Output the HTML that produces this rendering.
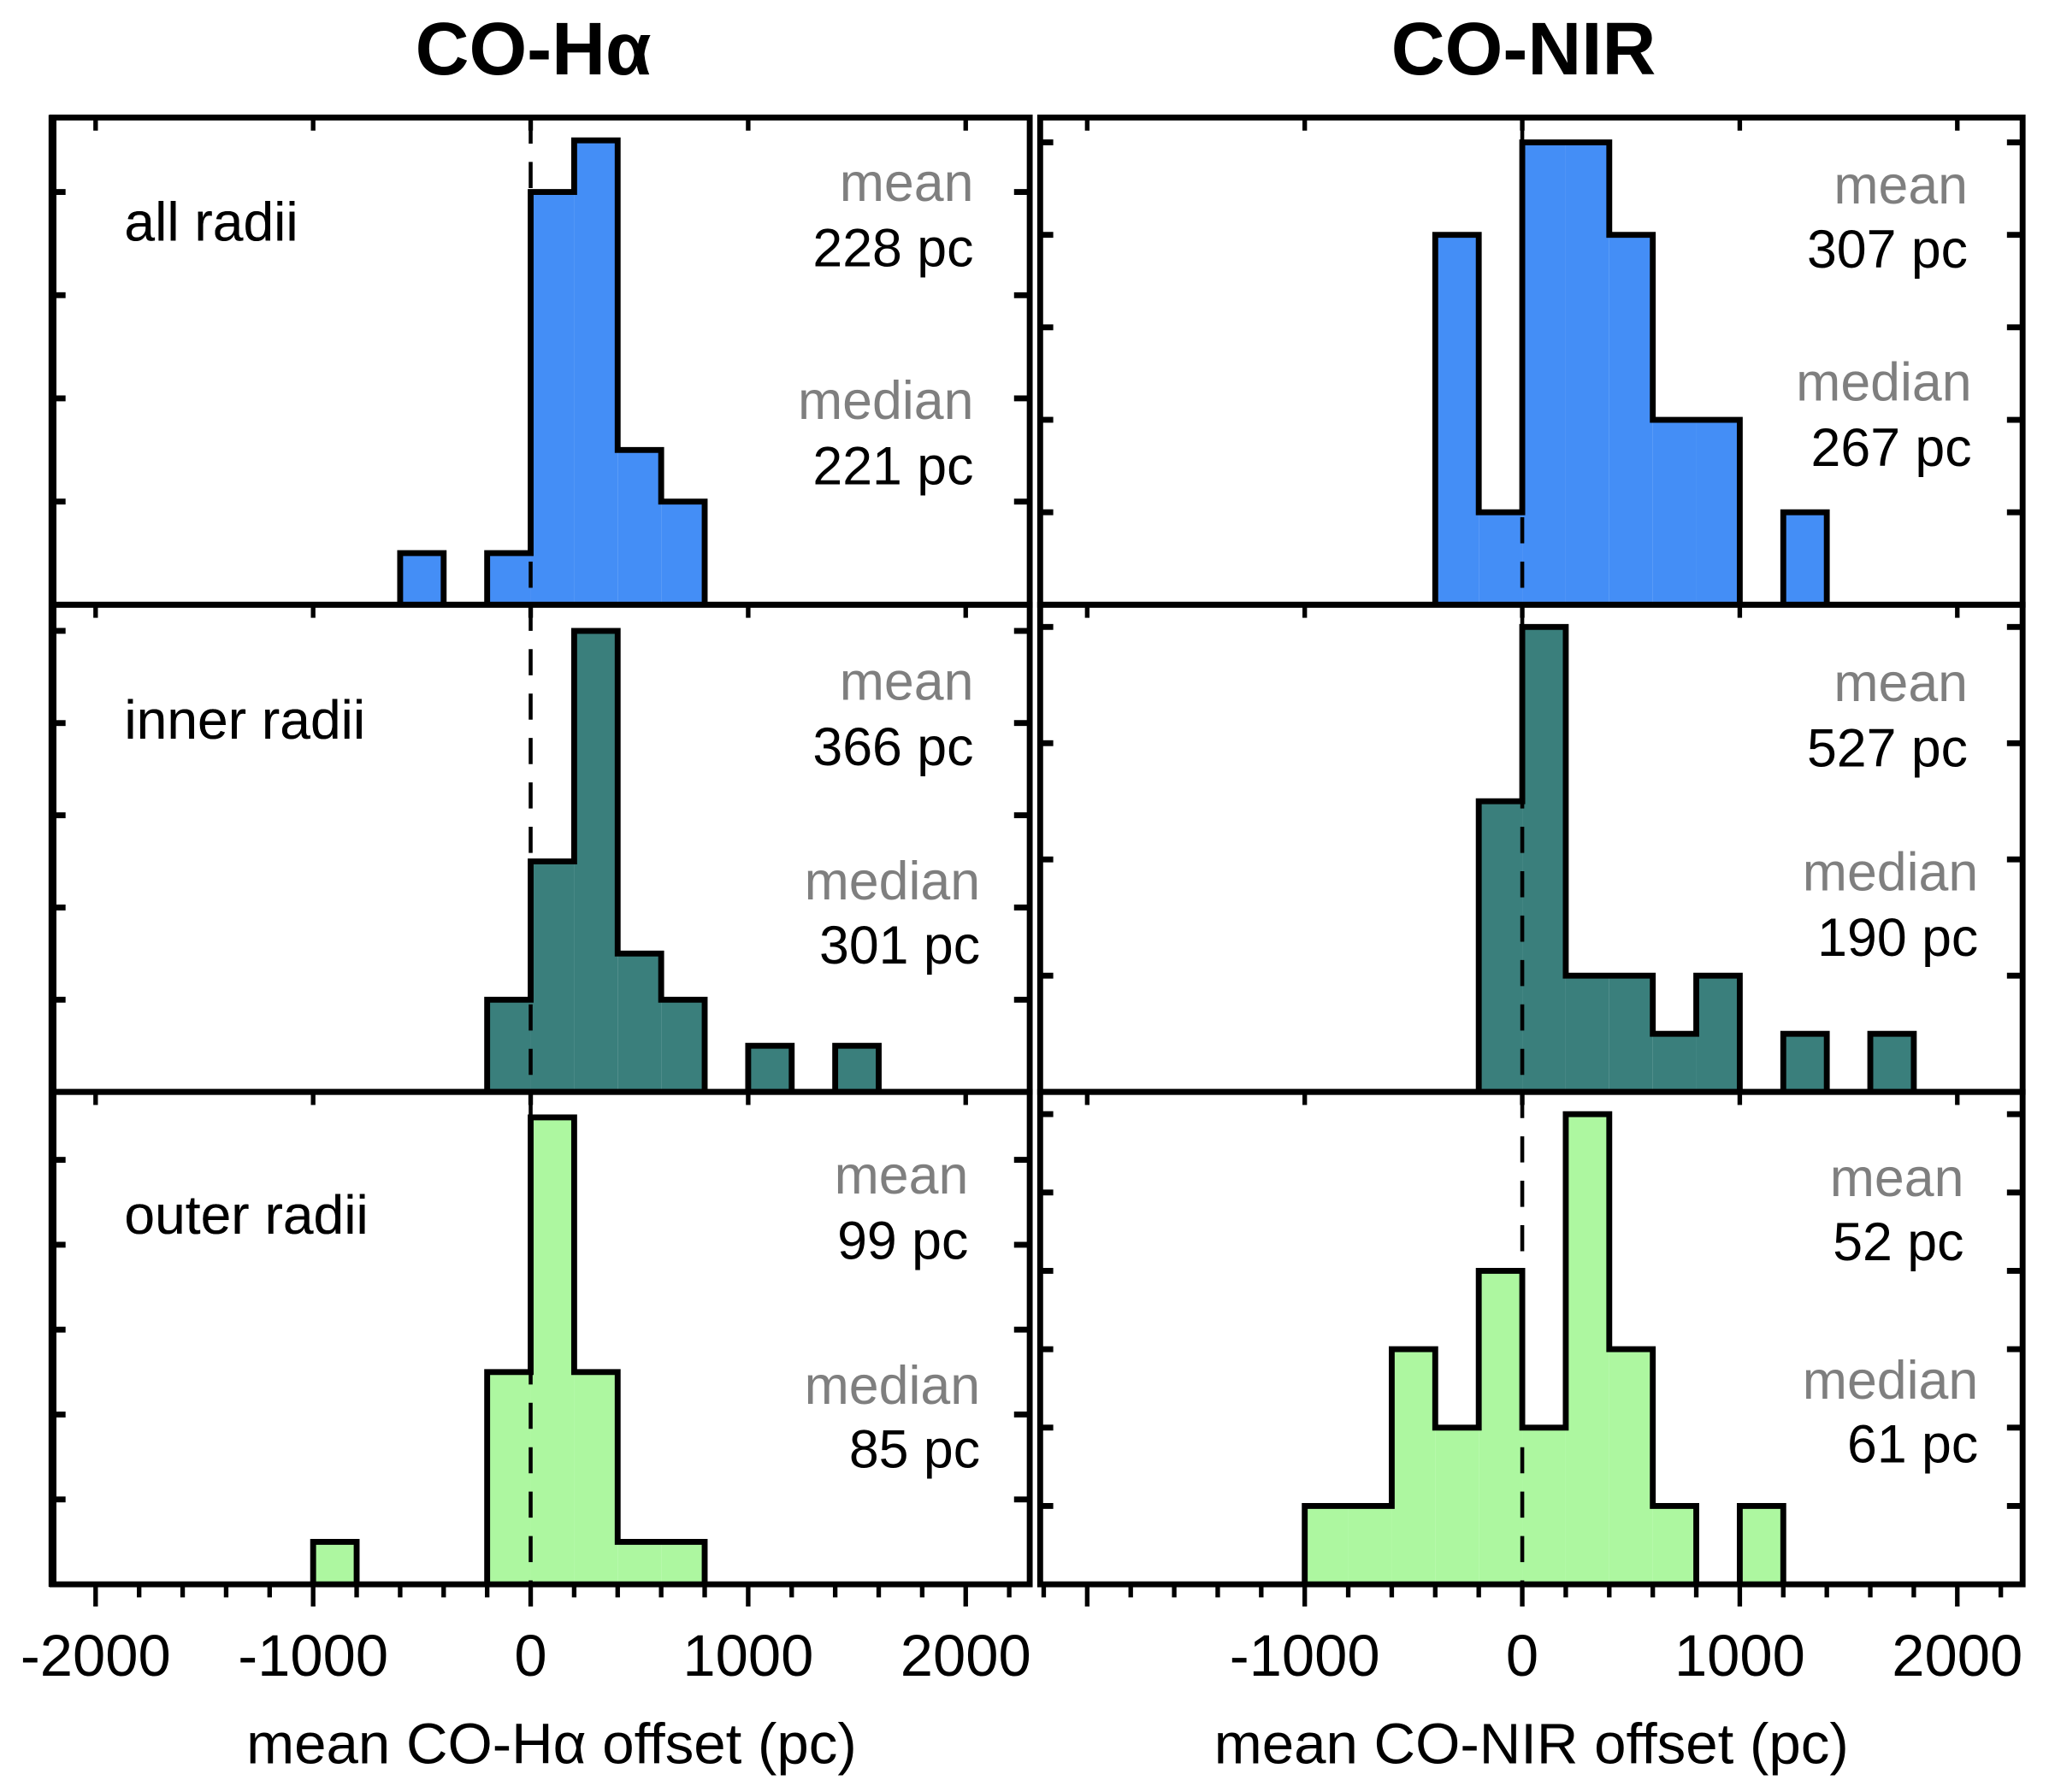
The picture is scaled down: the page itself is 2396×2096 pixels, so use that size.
<!DOCTYPE html>
<html><head><meta charset="utf-8">
<style>html,body{margin:0;padding:0;background:#fff}svg{display:block}</style></head>
<body>
<svg xmlns="http://www.w3.org/2000/svg" width="2396" height="2096" viewBox="0 0 1568 1372" font-family="Liberation Sans, sans-serif">
<rect width="1568" height="1372" fill="#fff"/>
<text x="408" y="57" text-anchor="middle" font-size="57" font-weight="bold">CO-Hα</text>
<text x="1166" y="57" text-anchor="middle" font-size="57" font-weight="bold">CO-NIR</text>
<g id="plots"></g>
<text x="422" y="1350" text-anchor="middle" font-size="44">mean CO-Hα offset (pc)</text>
<text x="1172" y="1350" text-anchor="middle" font-size="44">mean CO-NIR offset (pc)</text>
</svg>
<script>
// bin edges start (pc), width 200
const binStarts = [-1000,-800,-600,-400,-200,0,200,400,600,800,1000,1200,1400,1600];
// counts per bin, per panel
const countsAllHa   = [0,0,1,0,1,8,9,3,2,0,0,0,0,0];
const countsInnerHa = [0,0,0,0,2,5,10,3,2,0,1,0,1,0];
const countsOuterHa = [1,0,0,0,5,11,5,1,1,0,0,0,0,0];
const countsAllNir   = [0,0,0,8,2,10,10,8,4,4,0,2,0,0];
const countsInnerNir = [0,0,0,0,5,8,2,2,1,2,0,1,0,1];
const countsOuterNir = [1,1,3,2,4,2,6,3,1,0,1,0,0,0];
const xTickLabelsLeft = [-2000,-1000,0,1000,2000];
const xTickLabelsRight = [-1000,0,1000,2000];
const statsMean = ["228 pc","366 pc","99 pc","307 pc","527 pc","52 pc"];
const statsMedian = ["221 pc","301 pc","85 pc","267 pc","190 pc","61 pc"];
const rowLabels = ["all radii","inner radii","outer radii"];

const NS="http://www.w3.org/2000/svg";
const root=document.getElementById('plots');
function mk(tag,attrs,parent){const e=document.createElementNS(NS,tag);for(const k in attrs)e.setAttribute(k,attrs[k]);(parent||root).appendChild(e);return e;}
const colors=["#448ef6","#3a7f7c","#adf7a0"];
const rows=[{top:90,base:463},{top:463,base:836},{top:836,base:1213}];
const cols=[{x0:40,x1:788,zero:406},{x0:796,x1:1548,zero:1165}];
const pxPer=166.5/1000;
const pxCount=[[39.5,35.3,32.5],[35.4,44.5,60]];
const tickStep=[[2,2,2],[2,2,1]];
const data=[[countsAllHa,countsInnerHa,countsOuterHa],[countsAllNir,countsInnerNir,countsOuterNir]];
const statPos=[[[745,140,190,745,307,357],[745,522,572,750,675,724],[741,900,950,750,1061,1110]],
 [[1506,142,191,1509,293,343],[1506,523,573,1514,668,718],[1503,902,951,1514,1057,1106]]];
for(let c=0;c<2;c++){
 const C=cols[c]; const X=v=>C.zero+v*pxPer;
 for(let r=0;r<3;r++){
  const R=rows[r]; const pc=pxCount[c][r]; const Y=n=>R.base-n*pc;
  const g=mk('g',{});
  
  
  const cnt=data[c][r];
  let d='';
  for(let i=0;i<binStarts.length;i++){
   const n=cnt[i]; const xa=X(binStarts[i]), xb=X(binStarts[i]+200);
   if(n>0){
    const b=mk('rect',{x:xa,y:Y(n),width:xb-xa,height:n*pc,fill:colors[r]},g);
    
    
    const prev=i>0?cnt[i-1]:0;
    if(prev===0)d+=`M${xa},${R.base}`;
    d+=`L${xa},${Y(n)}L${xb},${Y(n)}`;
    const next=i<cnt.length-1?cnt[i+1]:0;
    if(next===0)d+=`L${xb},${R.base}`;
   }
  }
  const o=mk('path',{d:d,fill:'none',stroke:'#000','stroke-width':4.5,'stroke-linejoin':'miter'},g);
  
  
  const dl=mk('line',{x1:X(0),x2:X(0),y1:R.top,y2:R.base,stroke:'#000','stroke-width':3,'stroke-dasharray':'20,14'},g);
  
  
  for(let n=tickStep[c][r];Y(n)>R.top+10;n+=tickStep[c][r]){
   mk('line',{x1:C.x0,x2:C.x0+10,y1:Y(n),y2:Y(n),stroke:'#000','stroke-width':4.5},g);
   mk('line',{x1:C.x1-12,x2:C.x1,y1:Y(n),y2:Y(n),stroke:'#000','stroke-width':4.5},g);
  }
  for(let v=-2000;v<=2000;v+=1000){const x=X(v);if(x>C.x0+5&&x<C.x1-5)mk('line',{x1:x,x2:x,y1:R.top,y2:R.top+10,stroke:'#000','stroke-width':3.5},g);}
  const lbl=mk('text',{x:95,y:(r===0?170:r===1?551:930),'dominant-baseline':'central','font-size':42},g);
  lbl.textContent=rowLabels[r];
  
  
  const sp=statPos[c][r]; const idx=c*3+r;
  const t=[["mean","#7f7f7f",sp[0],sp[1]],[statsMean[idx],"#000",sp[0],sp[2]],["median","#7f7f7f",sp[3],sp[4]],[statsMedian[idx],"#000",sp[3],sp[5]]];
  t.forEach((q,k)=>{const e=mk('text',{x:q[2],y:q[3],'text-anchor':'end','dominant-baseline':'central','font-size':41,fill:q[1]},g);e.textContent=q[0];
   
   });
  mk('rect',{x:C.x0,y:R.top,width:C.x1-C.x0,height:R.base-R.top,fill:'none',stroke:'#000','stroke-width':4.5},g);
 }
 for(let v=-2200;v<=2200;v+=200){const x=X(v);if(x<C.x0+2||x>C.x1-2)continue;const major=v%1000===0;
  mk('line',{x1:x,x2:x,y1:1213,y2:1213+(major?17:10),stroke:'#000','stroke-width':3.5});}
 const labs=c?xTickLabelsRight:xTickLabelsLeft;
 labs.forEach(v=>{const e=mk('text',{x:X(v),y:1283,'text-anchor':'middle','font-size':45});e.textContent=String(v);
  
  });
}
mk('line',{x1:40,x2:40,y1:88,y2:1215,stroke:'#000','stroke-width':6});
</script>
</body></html>
